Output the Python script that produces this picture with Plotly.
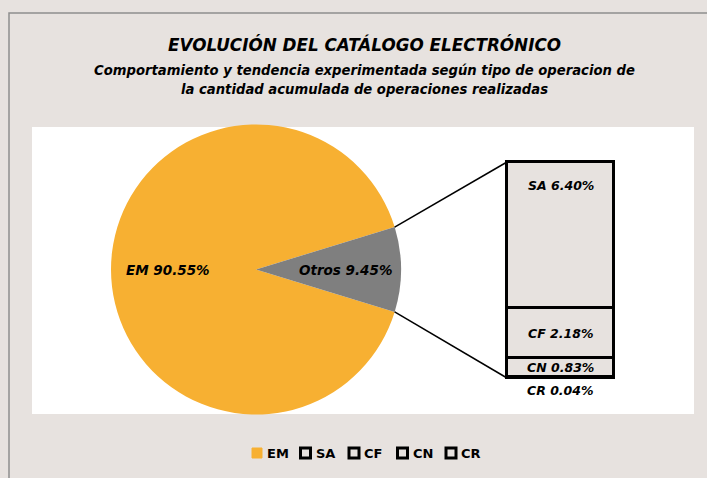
import math
import plotly.graph_objects as go

# data
pie_labels = ["EM", "Otros"]
pie_values = [90.55, 9.45]
bar_labels = ["SA", "CF", "CN", "CR"]
bar_values = [6.40, 2.18, 0.83, 0.04]
legend_labels = ["EM", "SA", "CF", "CN", "CR"]

W, H = 707, 478
BG = "#E7E2DF"
ORANGE = "#F7B032"
GREY = "#7F7F7F"
FONT = "DejaVu Sans"

# pie placement in pixels
cx, cy, r = 256, 269.5, 145
# bar placement in pixels
bx0, bx1, by0, by1 = 507, 614, 162, 378


def px(x):
    return x / W


def py(y):
    return 1 - y / H


half = pie_values[1] / sum(pie_values) * 360 / 2

fig = go.Figure()

fig.add_trace(go.Pie(
    labels=pie_labels, values=pie_values, sort=False, direction="clockwise",
    rotation=90 + half, textinfo="none", showlegend=False, hoverinfo="label+percent",
    marker=dict(colors=[ORANGE, GREY], line=dict(width=0)),
    domain=dict(x=[px(cx - r), px(cx + r)], y=[py(cy + r), py(cy - r)]),
))

# stacked bar, bottom to top: CR, CN, CF, SA
for lab, val in reversed(list(zip(bar_labels, bar_values))):
    fig.add_trace(go.Bar(
        x=[0], y=[val], name=lab, width=1, showlegend=False,
        marker=dict(color=BG, line=dict(color="black", width=3)),
    ))

total = sum(bar_values)
pad = 4
hw = 0.5 * (bx1 - bx0 + 2 * pad) / (bx1 - bx0)
ypad = pad * total / (by1 - by0)

lab_font = dict(family=FONT, size=13.5, color="black", weight="bold", style="italic")


def note(text, x, y, font, **kw):
    d = dict(text=text, x=px(x), y=py(y), xref="paper", yref="paper", showarrow=False,
             xanchor="center", yanchor="middle", font=font)
    d.update(kw)
    return d


annotations = [
    note("EVOLUCIÓN DEL CATÁLOGO ELECTRÓNICO", 365, 44,
         dict(family=FONT, size=16.8, color="black", weight="bold", style="italic")),
    note("Comportamiento y tendencia experimentada según tipo de operacion de", 365, 70,
         dict(family=FONT, size=13.2, color="black", weight="bold", style="italic")),
    note("la cantidad acumulada de operaciones realizadas", 365, 89,
         dict(family=FONT, size=13.2, color="black", weight="bold", style="italic")),
]

# pie labels at slice mid-angles
start = 90 + half
for lab, val, frac in zip(pie_labels, pie_values, [0.61, 0.62]):
    span = val / sum(pie_values) * 360
    mid = math.radians(start + span / 2)
    start += span
    lx = cx + frac * r * math.sin(mid)
    ly = cy - frac * r * math.cos(mid)
    annotations.append(note(f"{lab} {val:.2f}%", lx, ly, lab_font))

# bar labels
cum = total
for lab, val in zip(bar_labels, bar_values):
    top = cum
    cum -= val
    if lab == "SA":
        a = dict(y=top, yanchor="top", yshift=-14)
    elif lab == "CR":
        a = dict(y=cum, yanchor="top", yshift=-3)
    else:
        a = dict(y=(top + cum) / 2, yanchor="middle")
    annotations.append(dict(text=f"{lab} {val:.2f}%", x=0, xref="x", yref="y", xanchor="center",
                            showarrow=False, font=dict(lab_font, size=12.5), **a))

ex = cx + r * math.cos(math.radians(half))
ey = r * math.sin(math.radians(half))
shapes = [
    dict(type="rect", xref="paper", yref="paper", x0=px(9), x1=px(W + 20), y0=py(H + 20), y1=py(13),
         line=dict(color="#8E8E8E", width=1.5), fillcolor=BG, layer="below"),
    dict(type="rect", xref="paper", yref="paper", x0=px(32), x1=px(694), y0=py(414), y1=py(127),
         line=dict(width=0), fillcolor="white", layer="below"),
    dict(type="line", xref="paper", yref="paper", x0=px(ex), y0=py(cy - ey), x1=px(bx0), y1=py(by0),
         line=dict(color="black", width=1.5)),
    dict(type="line", xref="paper", yref="paper", x0=px(ex), y0=py(cy + ey), x1=px(bx0), y1=py(by1),
         line=dict(color="black", width=1.5)),
]

# legend drawn by hand: swatch + label
lx0, ly, step = 251, 453, 48.5
for i, lab in enumerate(legend_labels):
    x = lx0 + i * step
    if lab == "EM":
        sw = dict(fillcolor=ORANGE, line=dict(color=ORANGE, width=1))
    else:
        sw = dict(fillcolor=BG, line=dict(color="black", width=3))
    shapes.append(dict(type="rect", xref="paper", yref="paper", x0=px(x + 1), x1=px(x + 11),
                       y0=py(ly + 5), y1=py(ly - 5), **sw))
    annotations.append(note(lab, x + 14, ly, dict(family=FONT, size=13, color="black", weight="bold"),
                            xanchor="left"))

fig.update_layout(
    width=W, height=H, margin=dict(l=0, r=0, t=0, b=0),
    paper_bgcolor=BG, plot_bgcolor="rgba(0,0,0,0)",
    barmode="stack", bargap=0, showlegend=False,
    xaxis=dict(domain=[px(bx0 - pad), px(bx1 + pad)], range=[-hw, hw], visible=False, fixedrange=True),
    yaxis=dict(domain=[py(by1 + pad), py(by0 - pad)], range=[-ypad, total + ypad], visible=False, fixedrange=True),
    annotations=annotations, shapes=shapes,
)

fig.write_html("out.html", config={"displayModeBar": False},
               post_script="document.body.style.margin='0';")
